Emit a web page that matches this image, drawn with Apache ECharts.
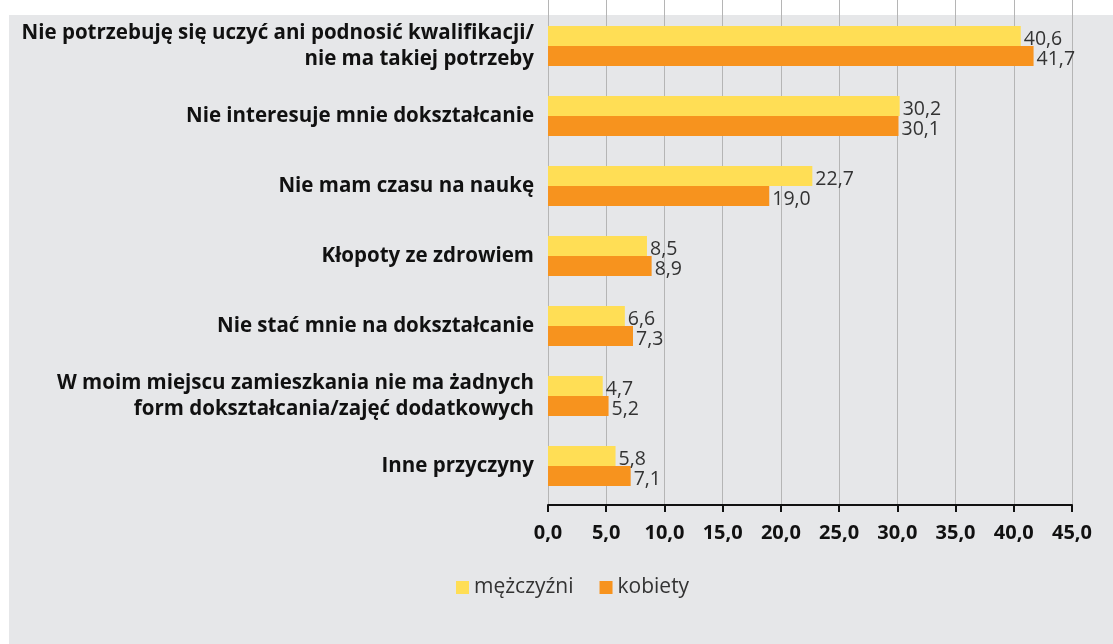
<!DOCTYPE html>
<html lang="pl">
<head>
    <meta charset="UTF-8">
    <title>Przyczyny niedokształcania</title>
    <style>
        html, body {margin: 0; padding: 0; background: #fff;}
    </style>
</head>
<body>
<div id="main" style="width: 1113px; height: 644px;"></div>
<script type="text/javascript" src="https://cdn.jsdelivr.net/npm/echarts@6/dist/echarts.min.js"></script>
<script type="text/javascript">
var categories = [
    'Nie potrzebuję się uczyć ani podnosić kwalifikacji/\nnie ma takiej potrzeby',
    'Nie interesuje mnie dokształcanie',
    'Nie mam czasu na naukę',
    'Kłopoty ze zdrowiem',
    'Nie stać mnie na dokształcanie',
    'W moim miejscu zamieszkania nie ma żadnych\nform dokształcania/zajęć dodatkowych',
    'Inne przyczyny'
];
var mezczyzni = [40.6, 30.2, 22.7, 8.5, 6.6, 4.7, 5.8];
var kobiety = [41.7, 30.1, 19.0, 8.9, 7.3, 5.2, 7.1];

function przecinek(v) {
    return v.toFixed(1).replace('.', ',');
}

var myChart = echarts.init(document.getElementById('main'));

var etykieta = {
    show: true,
    position: 'right',
    distance: 3,
    offset: [0, 3],
    color: '#333',
    fontSize: 19.5,
    fontFamily: 'Open Sans',
    formatter: function (p) { return przecinek(p.value); }
};

var option = {
    backgroundColor: '#fff',
    animation: false,
    graphic: [
        {type: 'rect', z: -100, shape: {x: 9, y: 15, width: 1104, height: 629}, style: {fill: '#e6e7e9'}}
    ],
    legend: {
        data: ['mężczyźni', 'kobiety'],
        left: 451,
        top: 572,
        itemWidth: 13,
        itemHeight: 13,
        itemGap: 26,
        icon: 'rect',
        textStyle: {fontSize: 21, color: '#333', fontFamily: 'Open Sans'}
    },
    grid: [
        {left: 548, right: 41, top: 11, height: 490},
        {left: 548, right: 41, top: 0, height: 505}
    ],
    xAxis: [
        {
            gridIndex: 0, type: 'value', min: 0, max: 45, interval: 5,
            show: false
        },
        {
            gridIndex: 1, type: 'value', min: 0, max: 45, interval: 5,
            axisLine: {show: true, lineStyle: {color: '#111', width: 2}},
            axisTick: {show: true, length: 7, lineStyle: {color: '#111', width: 2}},
            splitLine: {show: true, lineStyle: {color: '#b5b5b5', width: 1}},
            axisLabel: {
                margin: 18,
                fontSize: 20,
                fontWeight: 'bold',
                color: '#111',
                fontFamily: 'Open Sans',
                formatter: function (v) { return przecinek(v); }
            }
        }
    ],
    yAxis: [
        {
            gridIndex: 0, type: 'category', data: categories, inverse: true,
            axisLine: {show: false},
            axisTick: {show: false},
            axisLabel: {
                margin: 14,
                fontSize: 20.5,
                fontWeight: 'bold',
                color: '#111',
                lineHeight: 26,
                align: 'right',
                fontFamily: 'Open Sans'
            }
        },
        {gridIndex: 1, type: 'value', show: false}
    ],
    series: [
        {
            name: 'mężczyźni',
            type: 'bar',
            data: mezczyzni,
            barWidth: 20,
            barGap: '0%',
            itemStyle: {color: '#ffde55'},
            label: etykieta
        },
        {
            name: 'kobiety',
            type: 'bar',
            data: kobiety,
            barWidth: 20,
            barGap: '0%',
            itemStyle: {color: '#f7931e'},
            label: etykieta
        }
    ]
};
myChart.setOption(option);
</script>
</body>
</html>
